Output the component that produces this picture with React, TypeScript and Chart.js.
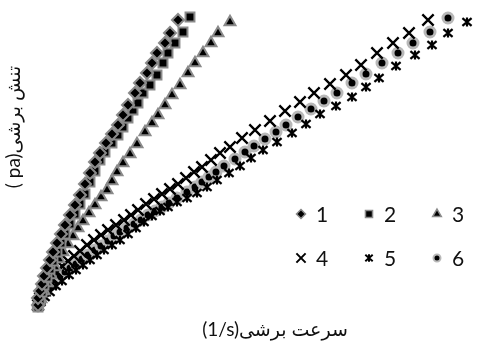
import React, { useEffect, useRef } from 'react';
import { Chart, registerables } from 'chart.js';
import { drawPoint } from 'chart.js/helpers';

Chart.register(...registerables);

// shear rate (1/s) and shear stress (pa) per sample
const s1x = [0, 0, 1, 2, 3, 4.5, 6, 7.5, 9.5, 11.5, 13.5, 16, 18.5, 21, 23.5, 26, 28.5, 31, 34, 37, 40, 42.5, 45, 48.5, 51, 54.5, 57, 59.5, 63.5, 66, 70];
const s1y = [0.5, 1.2, 1.9, 2.6, 3.4, 4.2, 5.0, 5.8, 6.7, 7.6, 8.5, 9.5, 10.5, 11.5, 12.6, 13.7, 14.8, 15.7, 16.7, 17.6, 18.5, 19.5, 20.5, 21.7, 22.7, 23.7, 24.7, 25.7, 26.7, 27.7, 29.0];

const s2x = [0, 1, 2, 3, 4.5, 6, 7.5, 9.5, 11.5, 13.5, 16, 18.5, 21, 23.5, 26, 28.5, 31, 33.5, 37, 40, 42.5, 45, 47.5, 50, 52.5, 56, 59.5, 62.5, 65, 68.5, 72.5, 76];
const s2y = [0.3, 1.0, 1.8, 2.5, 3.3, 4.1, 4.9, 5.8, 6.7, 7.6, 8.6, 9.6, 10.6, 11.6, 12.8, 13.9, 15.0, 15.8, 16.7, 17.5, 18.3, 19.2, 20.0, 20.7, 21.7, 22.5, 23.5, 24.7, 25.7, 26.7, 27.8, 29.3];

const s3x = [0, 1.5, 3, 4.5, 6.5, 8.5, 10.5, 12.5, 15, 17.5, 20, 22.5, 25.5, 28.5, 31.5, 34.5, 37, 39.5, 42.5, 46, 49.5, 53.5, 57, 60, 63.5, 67, 71, 75, 78.5, 82.5, 86.5, 90, 96];
const s3y = [0.4, 1.1, 1.9, 2.7, 3.5, 4.3, 5.1, 5.8, 6.6, 7.4, 8.2, 8.9, 9.7, 10.5, 11.3, 12.0, 12.9, 13.8, 14.7, 15.6, 16.6, 17.8, 18.7, 19.5, 20.5, 21.5, 22.5, 23.7, 24.7, 25.7, 26.7, 27.7, 28.8];

const s4x = [0, 1, 2.5, 4.5, 7, 9.5, 12, 15, 18, 21, 24.5, 28, 31.5, 35, 39, 43, 46.5, 50, 54, 58, 62, 66, 70, 74, 78, 82, 86.5, 91, 96, 102, 108.5, 116, 123.5, 131, 138, 146, 154, 161.5, 169.5, 177.5, 185.5, 195];
const s4y = [0.5, 1.2, 1.9, 2.6, 3.2, 3.8, 4.4, 4.9, 5.4, 5.9, 6.5, 7.0, 7.5, 8.0, 8.5, 9.0, 9.5, 10.0, 10.6, 11.1, 11.6, 12.1, 12.6, 13.2, 13.8, 14.3, 15.0, 15.7, 16.3, 17.2, 18.0, 18.9, 19.9, 20.8, 21.7, 22.6, 23.5, 24.5, 25.7, 26.7, 27.7, 29.0];

const s5x = [0, 1.5, 3.5, 6, 9, 12, 15.5, 19, 22.5, 26, 29.5, 33, 37, 41, 45, 49, 53, 57, 61, 65, 69.5, 74.5, 79.5, 84.5, 89.5, 95.5, 101, 106.5, 112.5, 119.5, 127, 134, 141, 149, 157, 164, 170.5, 179, 188.5, 197, 205, 214.5];
const s5y = [0.3, 0.8, 1.3, 1.8, 2.4, 2.9, 3.5, 4.0, 4.5, 5.0, 5.5, 6.0, 6.5, 7.0, 7.6, 8.2, 8.8, 9.4, 9.9, 10.3, 10.8, 11.2, 11.7, 12.3, 13.0, 13.7, 14.4, 15.2, 16.0, 16.8, 17.7, 18.6, 19.6, 20.4, 21.3, 22.3, 23.2, 24.4, 25.5, 26.5, 27.7, 28.8];

const s6x = [0, 1, 2.5, 4, 6, 8.5, 11, 13.5, 16, 19, 22, 25, 28.5, 31.5, 35, 38, 41, 44.5, 48, 51.5, 55, 58.5, 62, 65.5, 69.5, 74.5, 78.5, 82, 85.5, 89, 93, 98.5, 103.5, 108, 113.5, 119, 124, 130, 136.5, 143, 149.5, 157, 164, 172, 180, 187.5, 196, 205];
const s6y = [0.4, 1.0, 1.6, 2.1, 2.5, 3.0, 3.4, 3.8, 4.2, 4.6, 5.1, 5.5, 6.0, 6.4, 6.9, 7.4, 7.8, 8.2, 8.6, 9.0, 9.5, 9.9, 10.3, 10.7, 11.2, 11.8, 12.3, 12.8, 13.3, 13.8, 14.4, 15.1, 15.8, 16.4, 17.1, 17.8, 18.5, 19.3, 20.1, 20.9, 21.7, 22.7, 23.6, 24.7, 25.7, 26.7, 27.8, 29.2];

const seriesLabels = ['1', '2', '3', '4', '5', '6'];
const xTitle = 'سرعت برشی\u2066(1/s)\u2069';
const yTitle = 'تنش برشی\u2066( pa)\u2069';

const X_MAX = 217;
const Y_MAX = 29.6;

const GRAY = '#8a8a8a';
const FONT = 'Lato, "DejaVu Sans", sans-serif';

function makeStar(size: number, lw: number) {
  const c = document.createElement('canvas');
  c.width = size;
  c.height = size;
  const g = c.getContext('2d') as CanvasRenderingContext2D;
  const h = size / 2;
  const a = h - lw / 2 - 0.3;
  g.strokeStyle = '#000';
  g.lineWidth = lw;
  g.lineCap = 'butt';
  g.beginPath();
  g.moveTo(h - a, h - a * 0.85);
  g.lineTo(h + a, h + a * 0.85);
  g.moveTo(h + a, h - a * 0.85);
  g.lineTo(h - a, h + a * 0.85);
  g.moveTo(h, h - a);
  g.lineTo(h, h + a);
  g.stroke();
  return c;
}

const extrasPlugin = {
  id: 'extras',
  afterDraw(chart: any) {
    const ctx = chart.ctx as CanvasRenderingContext2D;
    // legend inside plot: 2 rows x 3 columns
    const colX = [301, 369, 437];
    const rowY = [214, 258];
    chart.data.datasets.forEach((ds: any, i: number) => {
      const mx = colX[i % 3];
      const my = rowY[Math.floor(i / 3)];
      ctx.save();
      ctx.fillStyle = ds.backgroundColor;
      ctx.strokeStyle = ds.borderColor;
      ctx.lineWidth = ds.legendBorder;
      const style = ds.legendStyle || ds.pointStyle;
      drawPoint(ctx, { pointStyle: style, radius: ds.legendRadius, borderWidth: ds.legendBorder, rotation: 0 } as any, mx, my);
      ctx.restore();
      ctx.save();
      ctx.fillStyle = '#111';
      ctx.font = '21px ' + FONT;
      ctx.textAlign = 'left';
      ctx.textBaseline = 'middle';
      ctx.fillText(ds.label, mx + 15, my + 1);
      ctx.restore();
    });
    // axis titles
    ctx.save();
    ctx.fillStyle = '#111';
    ctx.font = '19px ' + FONT;
    ctx.direction = 'rtl';
    ctx.textAlign = 'center';
    ctx.textBaseline = 'middle';
    ctx.fillText(xTitle, 275, 330);
    ctx.translate(14, 127);
    ctx.rotate(-Math.PI / 2);
    ctx.fillText(yTitle, 0, 0);
    ctx.restore();
  },
};

function pts(xs: number[], ys: number[]) {
  return xs.map((x, i) => ({ x, y: ys[i] }));
}

export default function App() {
  const ref = useRef<HTMLCanvasElement>(null);
  useEffect(() => {
    document.body.style.margin = '0';
    const star = makeStar(12, 2.2);
    const starSmall = makeStar(10, 2);
    const common = { showLine: false, clip: false as any };
    const chart = new Chart(ref.current as HTMLCanvasElement, {
      type: 'scatter',
      data: {
        datasets: [
          { ...common, label: seriesLabels[0], data: pts(s1x, s1y), pointStyle: 'rectRot', pointRadius: 6, backgroundColor: '#000', borderColor: GRAY, borderWidth: 2, legendRadius: 4.5, legendBorder: 1.5 } as any,
          { ...common, label: seriesLabels[1], data: pts(s2x, s2y), pointStyle: 'rect', pointRadius: 6.3, backgroundColor: '#000', borderColor: GRAY, borderWidth: 2, legendRadius: 5, legendBorder: 1.5 } as any,
          { ...common, label: seriesLabels[2], data: pts(s3x, s3y), pointStyle: 'triangle', pointRadius: 6.3, backgroundColor: '#000', borderColor: GRAY, borderWidth: 2, legendRadius: 5, legendBorder: 1.5 } as any,
          { ...common, label: seriesLabels[3], data: pts(s4x, s4y), pointStyle: 'crossRot', pointRadius: 8, backgroundColor: '#000', borderColor: '#000', borderWidth: 2.3, legendRadius: 6.5, legendBorder: 2 } as any,
          { ...common, label: seriesLabels[4], data: pts(s5x, s5y), pointStyle: star, legendStyle: starSmall, pointRadius: 6, backgroundColor: '#000', borderColor: '#000', borderWidth: 0, legendRadius: 5, legendBorder: 0 } as any,
          { ...common, label: seriesLabels[5], data: pts(s6x, s6y), pointStyle: 'circle', pointRadius: 5, backgroundColor: '#000', borderColor: '#b8b8b8', borderWidth: 3, legendRadius: 3.5, legendBorder: 2 } as any,
        ],
      },
      options: {
        animation: false,
        responsive: false,
        maintainAspectRatio: false,
        events: [],
        layout: { padding: { left: 38, right: 5, top: 14, bottom: 33 }, autoPadding: false } as any,
        scales: {
          x: { type: 'linear', min: 0, max: X_MAX, display: false },
          y: { type: 'linear', min: 0, max: Y_MAX, display: false },
        },
        plugins: { legend: { display: false }, tooltip: { enabled: false } },
      },
      plugins: [extrasPlugin],
    });
    return () => chart.destroy();
  }, []);
  return <canvas ref={ref} width={477} height={343} style={{ display: 'block' }} />;
}
